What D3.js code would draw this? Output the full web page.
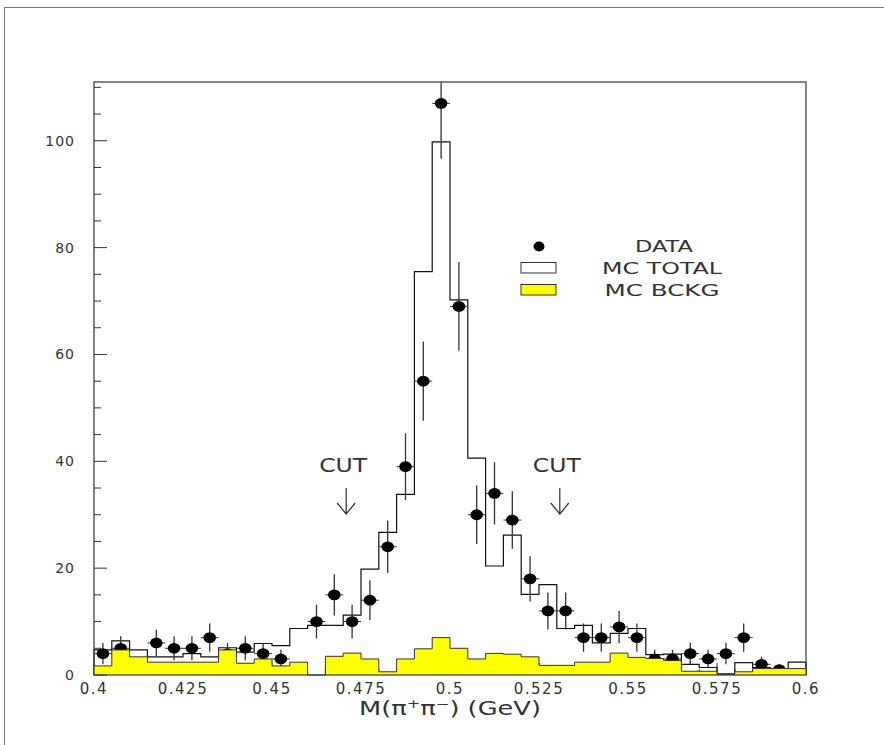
<!DOCTYPE html>
<html>
<head>
<meta charset="utf-8">
<script src="https://cdn.jsdelivr.net/npm/d3@7"></script>
<style>
  body { margin: 0; background: #fff; }
  svg { display: block; }
  text { font-family: "DejaVu Sans", sans-serif; fill: #333; }
</style>
</head>
<body>
<div id="chart"></div>
<script>
// bins of 5 MeV from 0.400 to 0.600 GeV
const binLow = 0.4, binWidth = 0.005;
const dataCounts = [4, 5, 0, 6, 5, 5, 7, 4, 5, 4, 3, 0, 10, 15, 10, 14, 24, 39, 55, 107,
                    69, 30, 34, 29, 18, 12, 12, 7, 7, 9, 7, 3, 3, 4, 3, 4, 7, 2, 1, 0];
const mcTotal = [4.7, 6.4, 4.7, 3.4, 3.4, 4.0, 3.4, 5.1, 4.3, 5.9, 5.5, 8.7, 9.3, 9.3, 11.2, 19.8, 26.7, 33.8, 75.5, 99.8,
                 70.2, 40.6, 20.4, 26.2, 15.1, 16.9, 8.7, 9.3, 6.0, 7.8, 8.7, 3.8, 3.9, 2.0, 1.4, 0.2, 2.3, 1.4, 1.0, 2.4];
const mcBckg = [1.7, 4.7, 3.4, 2.4, 2.4, 2.4, 2.4, 4.7, 2.2, 3.0, 1.7, 2.4, 0, 3.5, 4.1, 3.0, 0.6, 3.0, 4.9, 7.0,
                5.0, 3.0, 4.05, 3.9, 3.4, 1.8, 1.8, 2.4, 2.4, 4.1, 3.3, 3.1, 2.7, 0.7, 0.7, 0.1, 0.6, 1.2, 1.2, 1.2];

const xTickLabels = ["0.4", "0.425", "0.45", "0.475", "0.5", "0.525", "0.55", "0.575", "0.6"];
const yTickLabels = ["0", "20", "40", "60", "80", "100"];
const cutPositions = [0.47, 0.53];
const legendLabels = ["DATA", "MC TOTAL", "MC BCKG"];

const W = 884, H = 745;
const svg = d3.select("#chart").append("svg").attr("width", W).attr("height", H);

const x = d3.scaleLinear().domain([0.4, 0.6]).range([94, 806]);
const y = d3.scaleLinear().domain([0, 111]).range([675, 82]);

// outer frame (only top and left edges visible)
svg.append("rect").attr("x", 4.5).attr("y", 7.5).attr("width", 1000).attr("height", 1000)
   .attr("fill", "none").attr("stroke", "#777").attr("stroke-width", 1);

// histogram outline corners
function stepCorners(vals) {
  let pts = [[binLow, 0]];
  vals.forEach((v, i) => {
    pts.push([binLow + i*binWidth, v]);
    pts.push([binLow + (i+1)*binWidth, v]);
  });
  pts.push([binLow + vals.length*binWidth, 0]);
  return pts;
}

const line = d3.line().x(d => x(d[0])).y(d => y(d[1]));
const area = d3.area().x(d => x(d[0])).y0(y(0)).y1(d => y(d[1]));

const g = svg.append("g");

// x ticks (inside, under the yellow)
const xMinor = d3.range(0, 41).map(i => binLow + i*binWidth);
g.selectAll(".xt").data(xMinor).join("line")
  .attr("x1", d => x(d)).attr("x2", d => x(d))
  .attr("y1", y(0)).attr("y2", (d, i) => y(0) - (i % 5 === 0 ? 12 : 6))
  .attr("stroke", "#333");

// MC total
g.append("path").datum(stepCorners(mcTotal))
  .attr("fill", "none").attr("stroke", "#111").attr("stroke-width", 1.2)
  .attr("d", line);

// data points with errors
const pts = dataCounts.map((c, i) => ({c: c, xc: binLow + (i+0.5)*binWidth, i: i})).filter(d => d.c > 0);
const dg = g.append("g");
dg.selectAll(".ey").data(pts).join("line")
  .attr("x1", d => x(d.xc)).attr("x2", d => x(d.xc))
  .attr("y1", d => y(d.c - Math.sqrt(d.c))).attr("y2", d => Math.max(y(d.c + Math.sqrt(d.c)), 82))
  .attr("stroke", "#333").attr("stroke-width", 1.3);
dg.selectAll(".ex").data(pts).join("line")
  .attr("x1", d => x(d.xc - binWidth/2)).attr("x2", d => x(d.xc + binWidth/2))
  .attr("y1", d => y(d.c)).attr("y2", d => y(d.c))
  .attr("stroke", "#333").attr("stroke-width", 1);
dg.selectAll("ellipse").data(pts).join("ellipse")
  .attr("cx", d => x(d.xc)).attr("cy", d => y(d.c))
  .attr("rx", 6.3).attr("ry", 5.4).attr("fill", "#000");

// MC background
const bk = stepCorners(mcBckg);
g.append("path").datum(bk).attr("fill", "#ffff00").attr("stroke", "none").attr("d", area);
g.append("path").datum(bk.slice(1, -1))
  .attr("fill", "none").attr("stroke", "#333").attr("stroke-width", 1).attr("d", line);

// plot frame
g.append("rect").attr("x", x(0.4)).attr("y", y(111)).attr("width", x(0.6) - x(0.4)).attr("height", y(0) - y(111))
  .attr("fill", "none").attr("stroke", "#444").attr("stroke-width", 1.3);

// y ticks (inside)
const yMinor = d3.range(0, 111, 5);
g.selectAll(".yt").data(yMinor).join("line")
  .attr("x1", x(0.4)).attr("x2", (d) => x(0.4) + (d % 20 === 0 ? 13 : 7))
  .attr("y1", d => y(d)).attr("y2", d => y(d))
  .attr("stroke", "#333");

// tick labels
g.selectAll(".yl").data(yTickLabels).join("text")
  .attr("x", 75).attr("y", d => y(+d)).attr("dy", "0.36em")
  .attr("text-anchor", "end").attr("font-size", 14).attr("letter-spacing", 1)
  .text(d => d);
g.selectAll(".xl").data(xTickLabels).join("text")
  .attr("x", d => x(+d)).attr("y", 694)
  .attr("text-anchor", "middle").attr("font-size", 15).attr("letter-spacing", 1.5)
  .text(d => d);

// axis title
const title = g.append("text").attr("x", 450).attr("y", 715).attr("text-anchor", "middle")
  .attr("font-size", 19).attr("textLength", 182).attr("lengthAdjust", "spacingAndGlyphs");
title.append("tspan").text("M(π");
title.append("tspan").attr("dy", -7).attr("font-size", 12).text("+");
title.append("tspan").attr("dy", 7).text("π");
title.append("tspan").attr("dy", -7).attr("font-size", 12).text("−");
title.append("tspan").attr("dy", 7).text(") (GeV)");

// cut markers
cutPositions.forEach(c => {
  g.append("text").attr("x", x(c)).attr("y", 472).attr("text-anchor", "middle")
    .attr("font-size", 20).attr("textLength", 48).attr("lengthAdjust", "spacingAndGlyphs").text("CUT");
  const ax = x(c) + 3;
  g.append("path")
    .attr("d", `M${ax},488 L${ax},514 M${ax-9},503 L${ax},514 L${ax+9},503`)
    .attr("fill", "none").attr("stroke", "#333").attr("stroke-width", 1.2);
});

// legend
const lg = svg.append("g");
lg.append("ellipse").attr("cx", 539).attr("cy", 246.5).attr("rx", 5.5).attr("ry", 5).attr("fill", "#000");
lg.append("rect").attr("x", 521).attr("y", 262.5).attr("width", 35).attr("height", 10.5)
  .attr("fill", "#fff").attr("stroke", "#333");
lg.append("rect").attr("x", 521).attr("y", 284.5).attr("width", 35).attr("height", 10.5)
  .attr("fill", "#ffff00").attr("stroke", "#333");
const legX = [664, 662, 662], legY = [252, 274, 296], legLen = [58, 120, 115];
lg.selectAll(".lt").data(legendLabels).join("text")
  .attr("x", (d, i) => legX[i]).attr("y", (d, i) => legY[i])
  .attr("text-anchor", "middle").attr("font-size", 16.5)
  .attr("textLength", (d, i) => legLen[i]).attr("lengthAdjust", "spacingAndGlyphs")
  .text(d => d);
</script>
</body>
</html>
